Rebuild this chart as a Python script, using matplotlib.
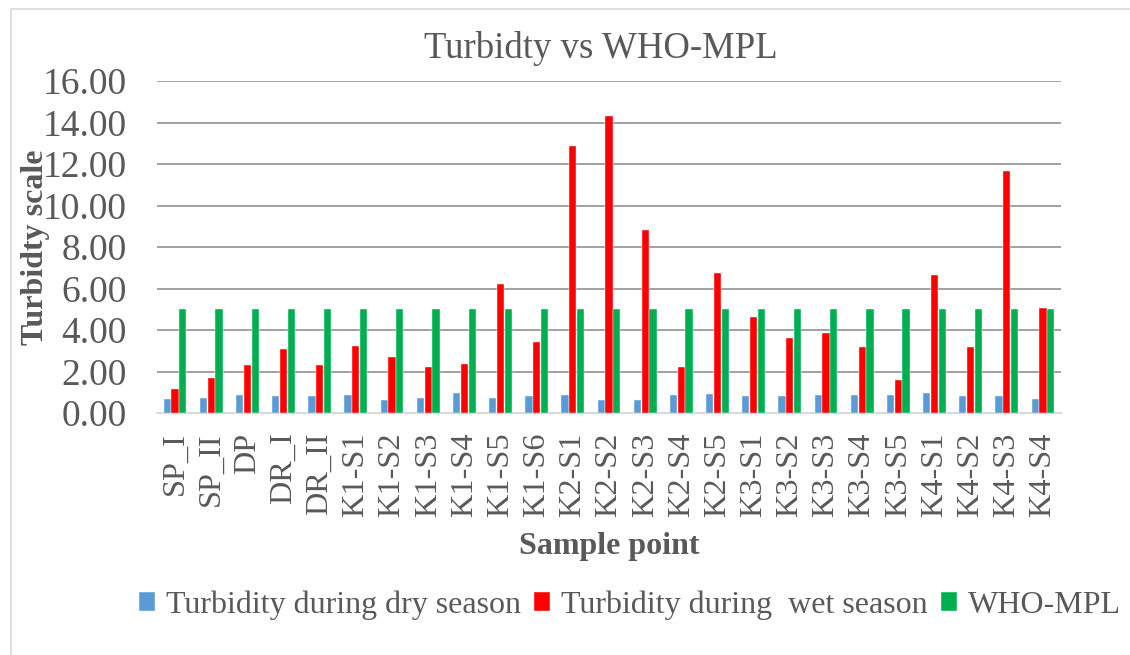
import numpy as np
import matplotlib
matplotlib.use("Agg")
import matplotlib.pyplot as plt
from matplotlib.patches import Rectangle

# Sample points along the x axis
sample_points = ["SP_I", "SP_II", "DP", "DR_I", "DR_II",
                 "K1-S1", "K1-S2", "K1-S3", "K1-S4", "K1-S5", "K1-S6",
                 "K2-S1", "K2-S2", "K2-S3", "K2-S4", "K2-S5",
                 "K3-S1", "K3-S2", "K3-S3", "K3-S4", "K3-S5",
                 "K4-S1", "K4-S2", "K4-S3", "K4-S4"]

# Turbidity readings
dry_season = [0.67, 0.74, 0.88, 0.84, 0.84,
              0.87, 0.63, 0.72, 0.95, 0.74, 0.82,
              0.88, 0.63, 0.63, 0.85, 0.93,
              0.84, 0.80, 0.87, 0.88, 0.85,
              0.95, 0.84, 0.84, 0.69]
wet_season = [1.17, 1.70, 2.33, 3.10, 2.31,
              3.23, 2.68, 2.22, 2.36, 6.23, 3.44,
              12.85, 14.32, 8.80, 2.23, 6.75,
              4.63, 3.61, 3.87, 3.20, 1.61,
              6.65, 3.16, 11.66, 5.06]
who_mpl = [5.0] * len(sample_points)

series_labels = ["Turbidity during dry season", "Turbidity during  wet season", "WHO-MPL"]
series_colors = ["#5b9bd5", "#ff0000", "#00b050"]
y_ticks = [0, 2, 4, 6, 8, 10, 12, 14, 16]

TEXT_GRAY = "#595959"
plt.rcParams["font.family"] = ["Liberation Serif", "DejaVu Serif"]

fig = plt.figure(figsize=(11.3, 6.55), dpi=100)
ax = fig.add_axes([157 / 1130, 1 - 413 / 655, 904 / 1130, 332 / 655])

# light chart border (cropped on right/bottom in the original)
fig.patches.append(Rectangle((11 / 1130, -0.05), 1.2, 1 - 9 / 655 + 0.05,
                             transform=fig.transFigure, fill=False,
                             edgecolor="#d9d9d9", linewidth=1.2))

x = np.arange(len(sample_points))
w = 0.2
step = 0.215
for k, (vals, lab, col) in enumerate(zip([dry_season, wet_season, who_mpl],
                                         series_labels, series_colors)):
    ax.bar(x + (k - 1) * step, vals, width=w, color=col, label=lab,
           edgecolor="white", linewidth=0.3, zorder=3)

ax.set_ylim(0, 16)
ax.set_xlim(-0.5, len(sample_points) - 0.5)
ax.set_yticks(y_ticks)
ax.set_yticklabels([f"{v:.2f}" for v in y_ticks], fontsize=27, color=TEXT_GRAY)
ax.set_xticks(x)
ax.set_xticklabels(sample_points, rotation=90, fontsize=23.3, color=TEXT_GRAY)
ax.tick_params(axis="y", length=0, pad=22)
ax.tick_params(axis="x", length=0, pad=14)

ax.grid(axis="y", color="#929292", linewidth=1.2, zorder=0)
for s in ["top", "right", "left"]:
    ax.spines[s].set_visible(False)
ax.spines["bottom"].set_color("#d9d9d9")
ax.spines["bottom"].set_linewidth(1.5)

ax.set_ylabel("Turbidty scale", fontsize=23, fontweight="bold", color=TEXT_GRAY)
ax.yaxis.set_label_coords(-0.118, 0.5)
ax.set_xlabel("Sample point", fontsize=23, fontweight="bold", color=TEXT_GRAY)
ax.xaxis.set_label_coords((609 - 157) / 904, (413 - 532) / 332)

fig.text(601 / 1130, 1 - 48 / 655, "Turbidty vs WHO-MPL", fontsize=26.5,
         color=TEXT_GRAY, ha="center", va="center")

leg = fig.legend(loc="center", bbox_to_anchor=(630 / 1130, 1 - 605 / 655), ncol=3,
                 frameon=False, fontsize=23, handlelength=0.5, handleheight=0.5,
                 handletextpad=0.35, columnspacing=0.4, borderaxespad=0)
for t in leg.get_texts():
    t.set_color(TEXT_GRAY)

fig.savefig("out.png", dpi=100)
